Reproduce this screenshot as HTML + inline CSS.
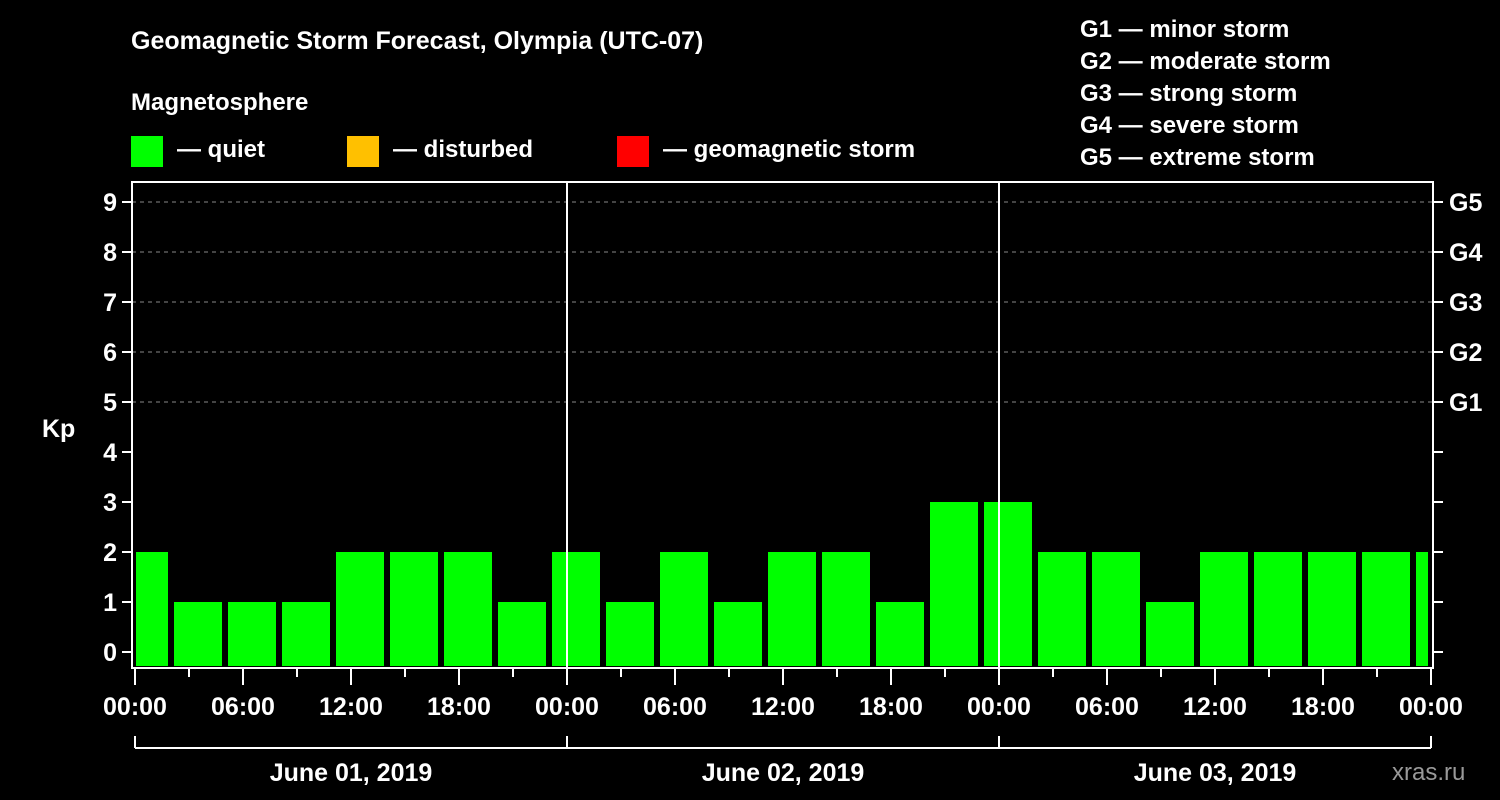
<!DOCTYPE html>
<html><head><meta charset="utf-8"><style>
html,body{margin:0;padding:0;background:#000;}
svg{display:block;font-family:"Liberation Sans",Arial,sans-serif;font-weight:bold;}
</style></head><body>
<svg width="1500" height="800" viewBox="0 0 1500 800" xmlns="http://www.w3.org/2000/svg">
<rect x="0" y="0" width="1500" height="800" fill="#000"/>
<text x="131" y="49" fill="#fff" font-size="25">Geomagnetic Storm Forecast, Olympia (UTC-07)</text>
<text x="131" y="110" fill="#fff" font-size="24">Magnetosphere</text>
<g><rect x="131" y="136" width="32" height="31" fill="#00ff00"/><text x="177" y="157" fill="#fff" font-size="24">— quiet</text></g>
<g><rect x="347" y="136" width="32" height="31" fill="#ffc000"/><text x="393" y="157" fill="#fff" font-size="24">— disturbed</text></g>
<g><rect x="617" y="136" width="32" height="31" fill="#ff0000"/><text x="663" y="157" fill="#fff" font-size="24">— geomagnetic storm</text></g>
<g fill="#fff" font-size="24">
<text x="1080" y="37">G1 — minor storm</text>
<text x="1080" y="69">G2 — moderate storm</text>
<text x="1080" y="101">G3 — strong storm</text>
<text x="1080" y="133">G4 — severe storm</text>
<text x="1080" y="165">G5 — extreme storm</text>
</g>
<text x="42" y="437" fill="#fff" font-size="25">Kp</text>
<g id="grid"></g>
<g id="bars"></g>
<g id="axes"></g>
<text x="1392" y="780" fill="#999" font-size="24" font-weight="normal">xras.ru</text>
</svg>
<script>
const kpValues = [2,1,1,1,2,2,2,1, 2,1,2,1,2,2,1,3, 3,2,2,1,2,2,2,2, 2];
const yTicks = [0,1,2,3,4,5,6,7,8,9];
const gLabels = ["G1","G2","G3","G4","G5"];
const xTickLabels = ["00:00","06:00","12:00","18:00","00:00","06:00","12:00","18:00","00:00","06:00","12:00","18:00","00:00"];
const dayLabels = ["June 01, 2019","June 02, 2019","June 03, 2019"];

const NS="http://www.w3.org/2000/svg";
const L=132,R=1433,T=182,B=668,X0=135,PXH=18;
const y=v=>652-v*50;
const x=h=>X0+h*PXH;
function mk(tag,attrs,parent,txt){const e=document.createElementNS(NS,tag);for(const k in attrs)e.setAttribute(k,attrs[k]);if(txt!==undefined)e.textContent=txt;parent.appendChild(e);return e;}
const grid=document.getElementById('grid'),bars=document.getElementById('bars'),axes=document.getElementById('axes');
// gridlines
for(let v=5;v<=9;v++){const g=mk('line',{x1:L,x2:R,y1:y(v),y2:y(v),stroke:'#888','stroke-width':1,'stroke-dasharray':'4,4'},grid);

}
// bars
kpValues.forEach((v,i)=>{const c=x(0.5+3*i);let x1=Math.max(c-24,L+4),x2=Math.min(c+24,R-5);
const col=v>=5?'#ff0000':(v>=4?'#ffc000':'#00ff00');
const b=mk('rect',{x:x1,y:y(v),width:x2-x1,height:666-y(v),fill:col},bars);

});
// day separators
[1,2].forEach(d=>{const s=mk('line',{x1:x(24*d),x2:x(24*d),y1:T,y2:B,stroke:'#fff','stroke-width':2},axes);

});
// frame
const fr=mk('rect',{x:L,y:T,width:R-L,height:B-T,fill:'none',stroke:'#fff','stroke-width':2},axes);


// y ticks
yTicks.forEach(v=>{mk('line',{x1:L-10,x2:L,y1:y(v),y2:y(v),stroke:'#fff','stroke-width':2},axes);
mk('line',{x1:R,x2:R+10,y1:y(v),y2:y(v),stroke:'#fff','stroke-width':2},axes);
const t=mk('text',{x:L-15,y:y(v)+9,fill:'#fff','font-size':25,'text-anchor':'end'},axes,String(v));

});
gLabels.forEach((g,i)=>{const t=mk('text',{x:R+16,y:y(5+i)+9,fill:'#fff','font-size':25},axes,g);

});
// x ticks
for(let h=0;h<=72;h+=3){const major=h%6===0;mk('line',{x1:x(h),x2:x(h),y1:B,y2:B+(major?17:9),stroke:'#fff','stroke-width':2},axes);}
xTickLabels.forEach((s,i)=>{const t=mk('text',{x:x(6*i),y:715,fill:'#fff','font-size':25,'text-anchor':'middle'},axes,s);

});
// day bracket
mk('line',{x1:x(0),x2:x(72),y1:748,y2:748,stroke:'#fff','stroke-width':2},axes);
for(let d=0;d<=3;d++)mk('line',{x1:x(24*d),x2:x(24*d),y1:736,y2:748,stroke:'#fff','stroke-width':2},axes);
dayLabels.forEach((s,i)=>{const t=mk('text',{x:x(24*i+12),y:781,fill:'#fff','font-size':25,'text-anchor':'middle'},axes,s);

});
</script>
</body></html>
